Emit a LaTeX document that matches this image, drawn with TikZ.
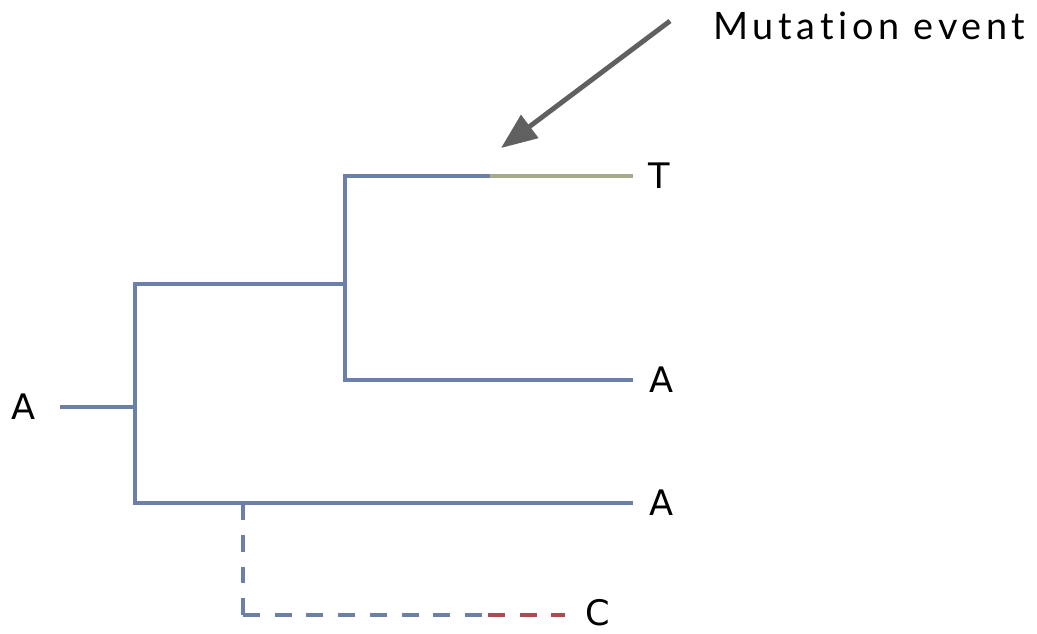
\documentclass[tikz,border=0pt]{standalone}
\usepackage{fontspec}
\setmainfont{DejaVu Sans}
\newfontfamily\notefont[Ligatures=NoCommon, LetterSpace=12.5]{Lato}
\usepackage{xcolor}
\usetikzlibrary{positioning, arrows.meta}

\definecolor{branchblue}{RGB}{106,128,170}
\definecolor{mutolive}{RGB}{168,171,138}
\definecolor{mutred}{RGB}{172,74,80}
\definecolor{pointergray}{RGB}{96,96,96}

\tikzset{
    branch/.style={line width=2.3pt, branchblue},
    lost/.style={line width=2.4pt, branchblue, dash pattern=on 0.34cm off 0.295cm},
    leaf/.style={inner sep=0pt, font=\fontsize{20}{22}\selectfont},
    note/.style={inner sep=0pt, font=\notefont\fontsize{21.5}{24}\selectfont},
    pointer/.style={line width=2.8pt, pointergray, -{Triangle[length=7.2mm, width=5.6mm]}}
}

\begin{document}
\begin{tikzpicture}[x=0.02cm, y=-0.02cm]
    \useasboundingbox (0, 0) rectangle (1037, 633);

    % tree junctions and tips
    \coordinate (root) at (60, 407);
    \coordinate (n0) at (135, 407);
    \coordinate (n0top) at (135, 284);
    \coordinate (n0bot) at (135, 503);
    \coordinate (n1) at (345, 284);
    \coordinate (n1top) at (345, 176);
    \coordinate (n1bot) at (345, 380);
    \coordinate (mut) at (490, 176);
    \coordinate (tEnd) at (633, 176);
    \coordinate (aEnd) at (633, 380);
    \coordinate (a2End) at (633, 503);
    \coordinate (n3) at (243, 503);
    \coordinate (n3bot) at (243, 615);
    \coordinate (cMut) at (488, 615);
    \coordinate (cEnd) at (565, 615);

    % tip labels
    \node[leaf, left=0.48cm of root] (rootA) {A};
    \node[leaf, right=0.3cm of tEnd] (tipT) {T};
    \node[leaf, right=0.32cm of aEnd] (tipA) {A};
    \node[leaf, right=0.32cm of a2End] (tipA2) {A};
    \node[leaf, right=0.4cm of cEnd, yshift=0.04cm] (tipC) {C};

    % branches
    \draw[branch] (root) -- (n0);
    \draw[branch] (n1) -- (n0top) -- (n0bot) -- (a2End);
    \draw[branch] (mut) -- (n1top) -- (n1bot) -- (aEnd);
    \draw[branch, mutolive] (mut) -- (tEnd);

    % extinct lineage
    \draw[lost] (n3) -- (n3bot);
    \draw[lost] (n3bot) -- (cMut);
    \draw[lost, mutred] (cMut) -- (cEnd);

    % annotation
    \node[note, anchor=base west] (note) at (713, 39) {Mutation event};
    \coordinate (tail) at (670, 21);
    \coordinate (hit) at (501, 148);
    \draw[pointer] (tail) -- (hit);
\end{tikzpicture}
\end{document}
